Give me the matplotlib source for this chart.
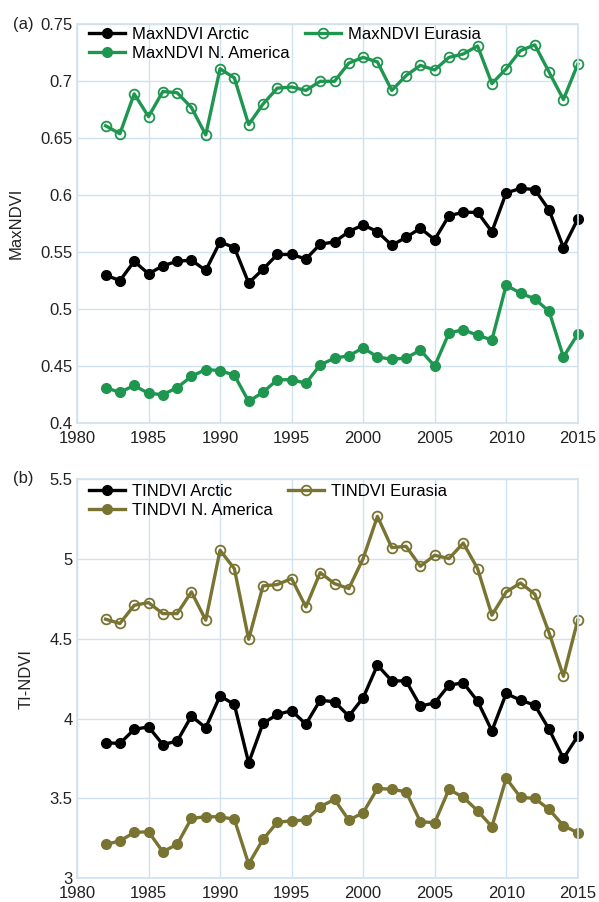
import numpy as np
import matplotlib
matplotlib.use("Agg")
from matplotlib import pyplot as plt

plt.rcParams['font.family'] = ['Liberation Sans', 'DejaVu Sans']

years = np.arange(1982, 2016)

# MaxNDVI series
max_arctic = [0.530, 0.525, 0.542, 0.531, 0.538, 0.542, 0.543, 0.534, 0.559, 0.554,
              0.523, 0.535, 0.548, 0.548, 0.544, 0.557, 0.559, 0.568, 0.574, 0.568,
              0.556, 0.563, 0.571, 0.561, 0.582, 0.585, 0.585, 0.568, 0.602, 0.606,
              0.605, 0.587, 0.554, 0.579]
max_namerica = [0.431, 0.427, 0.433, 0.426, 0.425, 0.431, 0.441, 0.447, 0.446, 0.442,
                0.419, 0.427, 0.438, 0.438, 0.435, 0.451, 0.457, 0.459, 0.466, 0.458,
                0.456, 0.457, 0.464, 0.450, 0.479, 0.482, 0.477, 0.473, 0.521, 0.514,
                0.509, 0.498, 0.458, 0.478]
max_eurasia = [0.661, 0.654, 0.689, 0.669, 0.691, 0.690, 0.677, 0.653, 0.711, 0.703,
               0.662, 0.680, 0.694, 0.695, 0.692, 0.700, 0.700, 0.716, 0.721, 0.717,
               0.692, 0.705, 0.714, 0.710, 0.721, 0.724, 0.731, 0.698, 0.711, 0.727,
               0.732, 0.708, 0.684, 0.715]

# TI-NDVI series
ti_arctic = [3.848, 3.844, 3.932, 3.948, 3.837, 3.858, 4.015, 3.942, 4.142, 4.088,
             3.722, 3.969, 4.026, 4.049, 3.965, 4.115, 4.105, 4.015, 4.130, 4.335,
             4.236, 4.236, 4.078, 4.098, 4.209, 4.224, 4.109, 3.923, 4.157, 4.115,
             4.084, 3.932, 3.750, 3.890]
ti_namerica = [3.211, 3.232, 3.286, 3.290, 3.165, 3.211, 3.374, 3.384, 3.384, 3.368,
               3.088, 3.242, 3.349, 3.359, 3.363, 3.447, 3.493, 3.363, 3.409, 3.562,
               3.556, 3.541, 3.353, 3.347, 3.556, 3.506, 3.422, 3.322, 3.625, 3.506,
               3.499, 3.430, 3.328, 3.284]
ti_eurasia = [4.623, 4.596, 4.710, 4.727, 4.658, 4.658, 4.794, 4.617, 5.055, 4.940,
              4.497, 4.832, 4.840, 4.878, 4.700, 4.915, 4.846, 4.815, 5.003, 5.268,
              5.072, 5.080, 4.955, 5.024, 5.003, 5.100, 4.940, 4.648, 4.794, 4.850,
              4.780, 4.537, 4.265, 4.617]

xticks = [1980, 1985, 1990, 1995, 2000, 2005, 2010, 2015]

green = '#1f9650'
olive = '#7a7432'
grid_col = '#cfe2ee'
txt = '#222222'
fs = 12

fig = plt.figure(figsize=(5.99, 9.02), dpi=100)
ax1 = fig.add_axes([0.1285, 0.531, 0.836, 0.442])
ax2 = fig.add_axes([0.1285, 0.0266, 0.836, 0.442])


def style(ax, ylim, yticks, yticklabels, ylabel):
    ax.set_xlim(1980, 2015)
    ax.set_ylim(*ylim)
    ax.set_xticks(xticks)
    ax.set_yticks(yticks)
    ax.set_yticklabels(yticklabels)
    ax.grid(True, color=grid_col, linewidth=1.0)
    ax.set_axisbelow(True)
    for s in ax.spines.values():
        s.set_color(grid_col)
        s.set_linewidth(1.2)
    ax.tick_params(length=0, labelsize=fs, colors=txt)
    ax.tick_params(axis='y', pad=3)
    ax.tick_params(axis='x', pad=6)
    ax.set_ylabel(ylabel, fontsize=fs, color=txt, labelpad=12)


def legend(ax, top):
    ax.legend(ncol=2, loc='upper left', frameon=False, fontsize=fs, handlelength=2.2,
              borderaxespad=0.0, labelspacing=0.25, columnspacing=0.9, handletextpad=0.4,
              bbox_to_anchor=(0.01, top))


lw = 2.4
ms = 7
ax1.plot(years, max_arctic, '-o', color='black', lw=lw, ms=ms, clip_on=False,
         label='MaxNDVI Arctic')
ax1.plot(years, max_namerica, '-o', color=green, lw=lw, ms=ms, clip_on=False,
         label='MaxNDVI N. America')
ax1.plot(years, max_eurasia, '-o', color=green, lw=lw, ms=ms, mfc='none', mew=1.3,
         clip_on=False, label='MaxNDVI Eurasia')
style(ax1, (0.4, 0.75), [0.4, 0.45, 0.5, 0.55, 0.6, 0.65, 0.7, 0.75],
      ['0.4', '0.45', '0.5', '0.55', '0.6', '0.65', '0.7', '0.75'], 'MaxNDVI')
legend(ax1, 1.01)
fig.text(0.022, 0.973, '(a)', fontsize=fs, color=txt, va='center')

ax2.plot(years, ti_arctic, '-o', color='black', lw=lw, ms=ms, clip_on=False,
         label='TINDVI Arctic')
ax2.plot(years, ti_namerica, '-o', color=olive, lw=lw, ms=ms, clip_on=False,
         label='TINDVI N. America')
ax2.plot(years, ti_eurasia, '-o', color=olive, lw=lw, ms=ms, mfc='none', mew=1.3,
         clip_on=False, label='TINDVI Eurasia')
style(ax2, (3.0, 5.5), [3, 3.5, 4, 4.5, 5, 5.5],
      ['3', '3.5', '4', '4.5', '5', '5.5'], 'TI-NDVI')
legend(ax2, 1.005)
fig.text(0.022, 0.469, '(b)', fontsize=fs, color=txt, va='center')

fig.savefig('out.png', dpi=100)
